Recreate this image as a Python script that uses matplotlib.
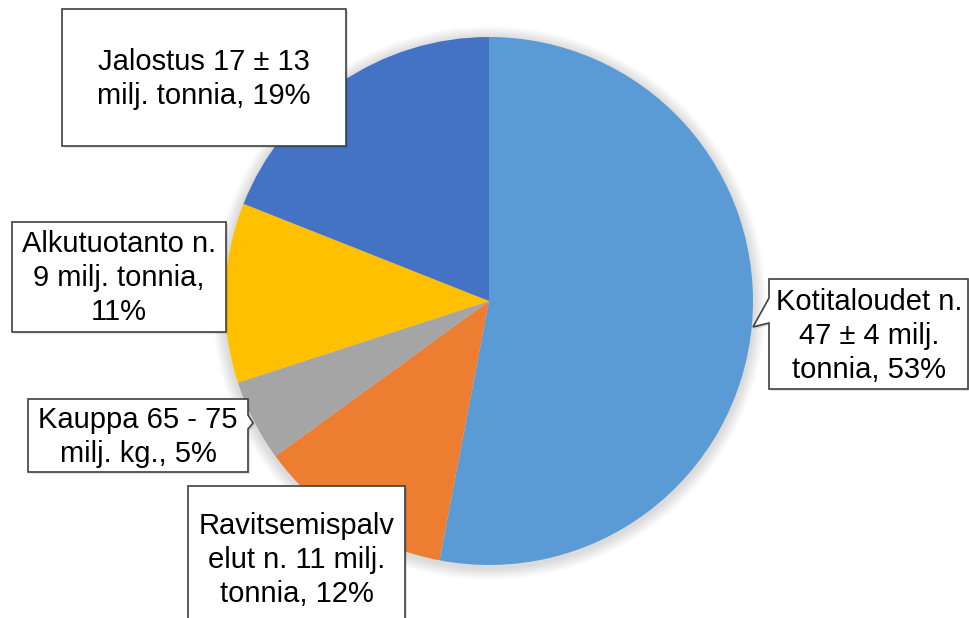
import matplotlib
matplotlib.use('Agg')
import matplotlib.pyplot as plt
from matplotlib.patches import Polygon, Circle

plt.rcParams['font.family'] = ['Liberation Sans', 'DejaVu Sans']

# osuudet (%) myotapaivaan alkaen ylhaalta
osat = ['Kotitaloudet', 'Ravitsemispalvelut', 'Kauppa', 'Alkutuotanto', 'Jalostus']
osuudet = [53, 12, 5, 11, 19]
varit = ['#5B9BD5', '#ED7D31', '#A5A5A5', '#FFC000', '#4472C4']
tekstit = [
    'Kotitaloudet n.\n47 ± 4 milj.\ntonnia, 53%',
    'Ravitsemispalv\nelut n. 11 milj.\ntonnia, 12%',
    'Kauppa 65 - 75\nmilj. kg., 5%',
    'Alkutuotanto n.\n9 milj. tonnia,\n11%',
    'Jalostus 17 ± 13\nmilj. tonnia, 19%',
]

W, H = 969, 618
fig = plt.figure(figsize=(W / 100, H / 100), dpi=100)
ax = fig.add_axes([0, 0, 1, 1])

def py(y):  # pikselista (ylhaalta) datakoordinaatiksi
    return H - y

cx, cy, r = 489, py(301), 264

# pehmea varjo
for i in range(12):
    ax.add_patch(Circle((cx, cy - 2), r + 13 - i, color='black', alpha=0.012, lw=0, zorder=1))

ax.pie(osuudet, colors=varit, startangle=90, counterclock=False,
       center=(cx, cy), radius=r, frame=True,
       wedgeprops=dict(linewidth=0, zorder=2))
ax.set_xlim(0, W)
ax.set_ylim(0, H)
ax.set_aspect('equal')
ax.axis('off')

# laatikot: vasen, oikea, yla, ala (pikseleina) + tekstin keskipiste
laatikot = [
    (769, 968, 279, 389, 869, 336),
    (188, 405, 486, 640, 297, 560),
    (28, 248, 399, 472, 138, 437),
    (12, 226, 222, 332, 119, 278),
    (62, 346, 9, 146, 204, 79),
]

for i, (x0, x1, y0, y1, tx, ty) in enumerate(laatikot):
    pts = [(x0, y0), (x1, y0), (x1, y1), (x0, y1)]
    if i == 0:  # osoitin piirakan reunaan
        pts = [(x0, y0), (x1, y0), (x1, y1), (x0, y1), (x0, 323), (753, 327), (x0, 298)]
    if i == 2:
        pts = [(x0, y0), (x1, y0), (x1, 415), (253, 423), (x1, 429), (x1, y1), (x0, y1)]
    ax.add_patch(Polygon([(x + 2, py(y + 2)) for x, y in pts], closed=True,
                         facecolor='black', alpha=0.10, lw=0, zorder=4))
    ax.add_patch(Polygon([(x, py(y)) for x, y in pts], closed=True,
                         facecolor='white', edgecolor='#404040', lw=1.2, zorder=5))
    ax.text(tx, py(ty), tekstit[i], ha='center', va='center', fontsize=21,
            linespacing=1.25, color='black', zorder=6)

fig.savefig('out.png', dpi=100, facecolor='white')
